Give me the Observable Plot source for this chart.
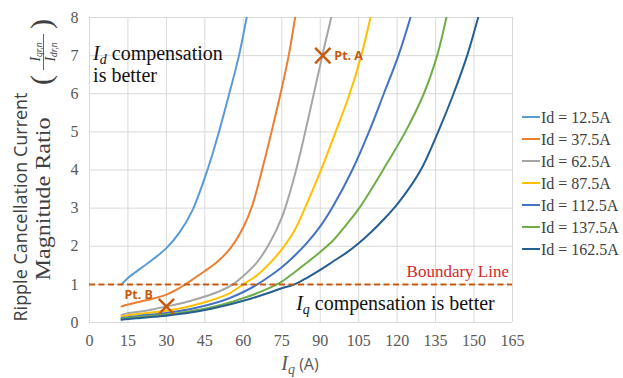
<!DOCTYPE html>
<html>
<head>
<meta charset="utf-8">
<script src="https://cdn.jsdelivr.net/npm/d3@7"></script>
<script src="https://cdn.jsdelivr.net/npm/@observablehq/plot@0.6"></script>
<style>
  body { margin: 0; background: #fff; }
  #chart { position: relative; width: 623px; height: 378px; }
  #chart svg text.serif-tick { font-family: 'Liberation Serif', 'Times New Roman', serif !important; }
</style>
</head>
<body>
<div id="chart"></div>
<script>
// ---- data ----
const seriesNames = ["Id = 12.5A", "Id = 37.5A", "Id = 62.5A", "Id = 87.5A", "Id = 112.5A", "Id = 137.5A", "Id = 162.5A"];
const seriesColors = ["#5B9BD5", "#ED7D31", "#A5A5A5", "#FFC000", "#4472C4", "#70AD47", "#255E91"];

const iq_12_5 = [12.5, 15, 20, 25, 30, 35, 40, 46, 50.5, 54.5, 58.3, 61.3];
const r_12_5  = [1.0, 1.17, 1.42, 1.67, 1.95, 2.35, 2.92, 4.0, 5.0, 6.0, 7.0, 8.0];

const iq_37_5 = [12.5, 15, 20, 25, 30, 35, 40, 45, 50, 55, 60, 63.4, 67.3, 71, 74.5, 77.7, 80.2];
const r_37_5  = [0.42, 0.47, 0.55, 0.63, 0.73, 0.9, 1.12, 1.35, 1.6, 1.95, 2.5, 3.05, 4.0, 5.0, 6.0, 7.0, 8.0];

const iq_62_5 = [12.5, 15, 20, 25, 30, 35, 40, 45, 50, 55, 60, 65, 70, 75, 80, 85, 90.8, 94.3];
const r_62_5  = [0.2, 0.24, 0.29, 0.35, 0.42, 0.49, 0.58, 0.68, 0.8, 0.96, 1.22, 1.55, 2.05, 2.75, 3.85, 5.25, 7.0, 8.0];

const iq_87_5 = [12.5, 15, 20, 25, 30, 35, 40, 45, 50, 55, 60, 65, 70, 75, 80, 85, 90, 96, 101.5, 106, 109.6];
const r_87_5  = [0.16, 0.19, 0.23, 0.27, 0.31, 0.37, 0.44, 0.53, 0.64, 0.78, 1.0, 1.22, 1.53, 1.92, 2.42, 3.15, 3.95, 5.0, 6.0, 7.0, 8.0];

const iq_112_5 = [12.5, 15, 20, 25, 30, 35, 40, 45, 50, 55, 60, 65, 70, 75, 80, 85, 90, 95, 102.5, 109, 114.8, 120.5, 125.2];
const r_112_5  = [0.12, 0.14, 0.18, 0.21, 0.25, 0.3, 0.36, 0.44, 0.53, 0.65, 0.8, 0.98, 1.2, 1.45, 1.75, 2.1, 2.52, 3.05, 4.0, 5.0, 6.0, 7.0, 8.0];

const iq_137_5 = [12.5, 15, 20, 25, 30, 35, 40, 45, 50, 55, 60, 65, 70, 75, 80, 85, 90, 95, 100, 105, 110, 114.5, 123.2, 130.4, 135.6, 139.2];
const r_137_5  = [0.1, 0.12, 0.15, 0.18, 0.21, 0.25, 0.3, 0.36, 0.44, 0.53, 0.64, 0.76, 0.9, 1.07, 1.32, 1.58, 1.85, 2.15, 2.55, 2.98, 3.5, 4.0, 5.0, 6.0, 7.0, 8.0];

const iq_162_5 = [12.5, 15, 20, 25, 30, 35, 40, 45, 50, 55, 60, 65, 70, 75, 80, 85, 90, 95, 100, 105, 110, 115, 120, 125, 130, 136, 142, 147.3, 151.6];
const r_162_5  = [0.07, 0.09, 0.12, 0.15, 0.18, 0.22, 0.27, 0.33, 0.4, 0.48, 0.57, 0.67, 0.78, 0.9, 1.0, 1.18, 1.38, 1.6, 1.82, 2.08, 2.38, 2.72, 3.1, 3.55, 4.1, 5.0, 6.0, 7.0, 8.0];

const xTicks = [0, 15, 30, 45, 60, 75, 90, 105, 120, 135, 150, 165];
const yTicks = [0, 1, 2, 3, 4, 5, 6, 7, 8];

const boundaryValue = 1;
const pointNames = ["Pt. A", "Pt. B"];
const pointIq = [91, 30];
const pointRatio = [7, 0.42];

// ---- build table ----
const xs = [iq_12_5, iq_37_5, iq_62_5, iq_87_5, iq_112_5, iq_137_5, iq_162_5];
const ys = [r_12_5, r_37_5, r_62_5, r_87_5, r_112_5, r_137_5, r_162_5];
const rows = [];
seriesNames.forEach((name, i) => xs[i].forEach((x, j) => rows.push({series: name, iq: x, ratio: ys[i][j]})));
const points = pointNames.map((n, i) => ({name: n, iq: pointIq[i], ratio: pointRatio[i]}));

const serif = "'Liberation Serif', 'Times New Roman', serif";
const sans = "'Open Sans', 'Liberation Sans', sans-serif";

const chart = Plot.plot({
  width: 623, height: 378,
  marginLeft: 89, marginRight: 111, marginTop: 17, marginBottom: 56,
  style: {fontSize: "16px", color: "#595959", background: "#fff"},
  x: {domain: [0, 165], ticks: xTicks, label: null},
  y: {domain: [0, 8], ticks: yTicks, label: null},
  color: {domain: seriesNames, range: seriesColors},
  marks: [
    Plot.gridX(xTicks, {stroke: "#d9d9d9", strokeOpacity: 1, strokeWidth: 1}),
    Plot.gridY(yTicks, {stroke: "#d9d9d9", strokeOpacity: 1, strokeWidth: 1}),
    Plot.axisX({ticks: xTicks, tickSize: 0, tickPadding: 12, fill: "#595959", fontSize: 16}),
    Plot.axisY({ticks: yTicks, tickSize: 0, tickPadding: 11, fill: "#595959", fontSize: 16}),
    Plot.line(rows, {x: "iq", y: "ratio", z: "series", stroke: "series", strokeWidth: 2, curve: "catmull-rom", clip: true}),
    Plot.ruleY([boundaryValue], {stroke: "#C55A11", strokeWidth: 2, strokeDasharray: "6,3.5"}),
    Plot.dot(points, {x: "iq", y: "ratio", symbol: "times", r: 7, stroke: "#C55A11", strokeWidth: 2.5})
  ]
});
document.getElementById("chart").appendChild(chart);

const sx = chart.scale("x"), sy = chart.scale("y");
const svg = d3.select(chart);
// serif tick labels
svg.selectAll("text").classed("serif-tick", true).attr("font-family", serif)
  .each(function() { this.style.setProperty("font-family", serif, "important"); });

// Point labels
const labelOffsets = [{dx: 12, dy: 5, anchor: "start"}, {dx: -13, dy: -7, anchor: "end"}];
points.forEach((p, i) => {
  svg.append("text").attr("x", sx.apply(p.iq) + labelOffsets[i].dx).attr("y", sy.apply(p.ratio) + labelOffsets[i].dy)
    .attr("text-anchor", labelOffsets[i].anchor)
    .style("font-family", sans).attr("font-weight", "bold").attr("font-size", 12.5).attr("fill", "#C55A11")
    .text(p.name);
});

// Boundary label
svg.append("text").attr("x", sx.apply(165) - 3).attr("y", sy.apply(boundaryValue) - 7)
  .attr("text-anchor", "end").style("font-family", serif).attr("font-size", 17).attr("fill", "#D42A2A")
  .text("Boundary Line");

// Region annotations
function richLabel(x, y, sub, rest) {
  const t = svg.append("text").attr("x", x).attr("y", y).attr("text-anchor", "start")
    .style("font-family", serif).attr("font-size", 20).attr("fill", "#111");
  t.append("tspan").attr("font-style", "italic").text("I");
  t.append("tspan").attr("font-style", "italic").attr("font-size", 14).attr("dy", 4).text(sub);
  t.append("tspan").attr("dy", -4).text(" " + rest);
  return t;
}
richLabel(sx.apply(1.6), sy.apply(6.87), "d", "compensation");
svg.append("text").attr("x", sx.apply(1.6)).attr("y", sy.apply(6.87) + 22).attr("text-anchor", "start")
  .style("font-family", serif).attr("font-size", 20).attr("fill", "#111").text("is better");
richLabel(sx.apply(80.8), sy.apply(0.31), "q", "compensation is better");

// X axis title
{
  const t = svg.append("text").attr("x", 300).attr("y", 370).attr("text-anchor", "middle").attr("fill", "#595959");
  t.append("tspan").style("font-family", serif).attr("font-style", "italic").attr("font-size", 20).text("I");
  t.append("tspan").style("font-family", serif).attr("font-style", "italic").attr("font-size", 14).attr("dy", 4).text("q");
  t.append("tspan").style("font-family", sans).attr("font-size", 16).attr("dy", -4).text(" (A)");
}

// Y axis titles
svg.append("text").attr("transform", "translate(27,207) rotate(-90)").attr("text-anchor", "middle")
  .style("font-family", sans).attr("font-size", 18).attr("fill", "#404040")
  .attr("textLength", 229).attr("lengthAdjust", "spacingAndGlyphs")
  .text("Ripple Cancellation Current");
svg.append("text").attr("transform", "translate(50,199) rotate(-90)").attr("text-anchor", "middle")
  .style("font-family", serif).attr("font-size", 21).attr("fill", "#404040")
  .attr("textLength", 163).attr("lengthAdjust", "spacingAndGlyphs")
  .text("Magnitude Ratio");

// Fraction (I_qr,n / I_dr,n)
{
  const g = svg.append("g").attr("transform", "translate(42,52) rotate(-90)").attr("fill", "#404040").style("font-family", serif);
  g.append("text").attr("x", -28).attr("y", 9).attr("font-size", 30).attr("text-anchor", "middle").text("(");
  g.append("text").attr("x", 28).attr("y", 9).attr("font-size", 30).attr("text-anchor", "middle").text(")");
  const num = g.append("text").attr("x", 0).attr("y", -2).attr("text-anchor", "middle").attr("font-style", "italic");
  num.append("tspan").attr("font-size", 14).text("I");
  num.append("tspan").attr("font-size", 9.5).attr("dy", 2).text("qr,n");
  g.append("line").attr("x1", -18).attr("x2", 18).attr("y1", 1.5).attr("y2", 1.5).attr("stroke", "#404040").attr("stroke-width", 0.8);
  const den = g.append("text").attr("x", 0).attr("y", 13).attr("text-anchor", "middle").attr("font-style", "italic");
  den.append("tspan").attr("font-size", 14).text("I");
  den.append("tspan").attr("font-size", 9.5).attr("dy", 2).text("dr,n");
}

// Legend
const legend = svg.append("g");
seriesNames.forEach((name, i) => {
  const yc = 117 + i * 22;
  legend.append("line").attr("x1", 522).attr("x2", 540).attr("y1", yc).attr("y2", yc).attr("stroke", seriesColors[i]).attr("stroke-width", 2);
  legend.append("text").attr("x", 541).attr("y", yc + 5.5).attr("text-anchor", "start")
    .style("font-family", serif).attr("font-size", 16).attr("fill", "#404040").text(name);
});
</script>
</body>
</html>
